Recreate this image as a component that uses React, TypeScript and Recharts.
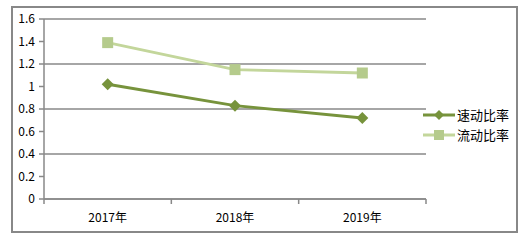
import { CartesianGrid, Line, LineChart, XAxis, YAxis } from 'recharts';

const years = ['2017年', '2018年', '2019年'];
const quickRatio = [1.02, 0.83, 0.72];
const currentRatio = [1.39, 1.15, 1.12];
const yTicks = [0, 0.2, 0.4, 0.6, 0.8, 1, 1.2, 1.4, 1.6];
const seriesNames = ['速动比率', '流动比率'];

const DARK = '#77933C';
const LIGHT = '#C3D69B';
const LIGHT_MARK = '#B5CB8C';
const GRID = '#888888';
const FONT = '"Noto Sans CJK SC", sans-serif';

const data = years.map((year, i) => ({
  pos: i + 0.5,
  year,
  quick: quickRatio[i],
  current: currentRatio[i],
}));

const edgeTicks = [...years.map((_, i) => i), years.length];
const labelTicks = years.map((_, i) => i + 0.5);

const Diamond = (props: any) => {
  const { cx, cy, index } = props;
  const r = 6;
  return (
    <polygon
      key={`d-${index}`}
      points={`${cx},${cy - r} ${cx + r},${cy} ${cx},${cy + r} ${cx - r},${cy}`}
      fill={DARK}
    />
  );
};

const Square = (props: any) => {
  const { cx, cy, index } = props;
  return <rect key={`s-${index}`} x={cx - 5.5} y={cy - 5.5} width={11} height={11} fill={LIGHT_MARK} />;
};

const LegendIcon = ({ color, kind }: { color: string; kind: 'diamond' | 'square' }) => (
  <svg width={32} height={12} style={{ display: 'block' }}>
    <line x1={0} y1={6} x2={32} y2={6} stroke={color} strokeWidth={3} />
    {kind === 'diamond' ? (
      <polygon points="16,1 21,6 16,11 11,6" fill={DARK} />
    ) : (
      <rect x={11} y={1} width={10} height={10} fill={LIGHT_MARK} />
    )}
  </svg>
);

export default function App() {
  return (
    <div style={{ position: 'absolute', left: 0, top: 0, width: 525, height: 241, background: '#fff', fontFamily: FONT }}>
      <div
        style={{
          position: 'absolute',
          left: 11,
          top: 6,
          width: 503,
          height: 223,
          border: `2px solid ${GRID}`,
        }}
      />
      <LineChart
        width={525}
        height={241}
        data={data}
        margin={{ top: 19, right: 99, bottom: 12, left: 0 }}
        style={{ position: 'absolute', left: 0, top: 0 }}
      >
        <CartesianGrid xAxisId="edges" vertical={false} stroke={GRID} strokeWidth={1.5} />
        <XAxis
          xAxisId="edges"
          dataKey="pos"
          type="number"
          domain={[0, years.length]}
          allowDataOverflow
          ticks={edgeTicks}
          tickFormatter={() => ''}
          height={6}
          tickSize={5}
          axisLine={{ stroke: GRID, strokeWidth: 1.5 }}
          tickLine={{ stroke: GRID, strokeWidth: 1.5 }}
        />
        <XAxis
          xAxisId="labels"
          dataKey="pos"
          type="number"
          domain={[0, years.length]}
          allowDataOverflow
          ticks={labelTicks}
          tickFormatter={(v: number) => years[Math.floor(v)]}
          height={24}
          axisLine={false}
          tickLine={false}
          tickMargin={2}
          tick={{ fill: '#000', fontSize: 12, fontFamily: FONT }}
        />
        <YAxis
          width={44}
          domain={[0, 1.6]}
          ticks={yTicks}
          tickSize={5}
          tickMargin={4}
          axisLine={{ stroke: GRID, strokeWidth: 1.5 }}
          tickLine={{ stroke: GRID, strokeWidth: 1.5 }}
          tick={{ fill: '#000', fontSize: 12, fontFamily: FONT }}
        />
        <Line
          xAxisId="edges"
          dataKey="current"
          name={seriesNames[1]}
          stroke={LIGHT}
          strokeWidth={3}
          dot={Square}
          activeDot={false}
          isAnimationActive={false}
        />
        <Line
          xAxisId="edges"
          dataKey="quick"
          name={seriesNames[0]}
          stroke={DARK}
          strokeWidth={3}
          dot={Diamond}
          activeDot={false}
          isAnimationActive={false}
        />
      </LineChart>
      <div style={{ position: 'absolute', left: 423, top: 105, fontSize: 13, color: '#000', lineHeight: '20px' }}>
        <div style={{ display: 'flex', alignItems: 'center' }}>
          <LegendIcon color={DARK} kind="diamond" />
          <span style={{ marginLeft: 2 }}>{seriesNames[0]}</span>
        </div>
        <div style={{ display: 'flex', alignItems: 'center' }}>
          <LegendIcon color={LIGHT} kind="square" />
          <span style={{ marginLeft: 2 }}>{seriesNames[1]}</span>
        </div>
      </div>
    </div>
  );
}
